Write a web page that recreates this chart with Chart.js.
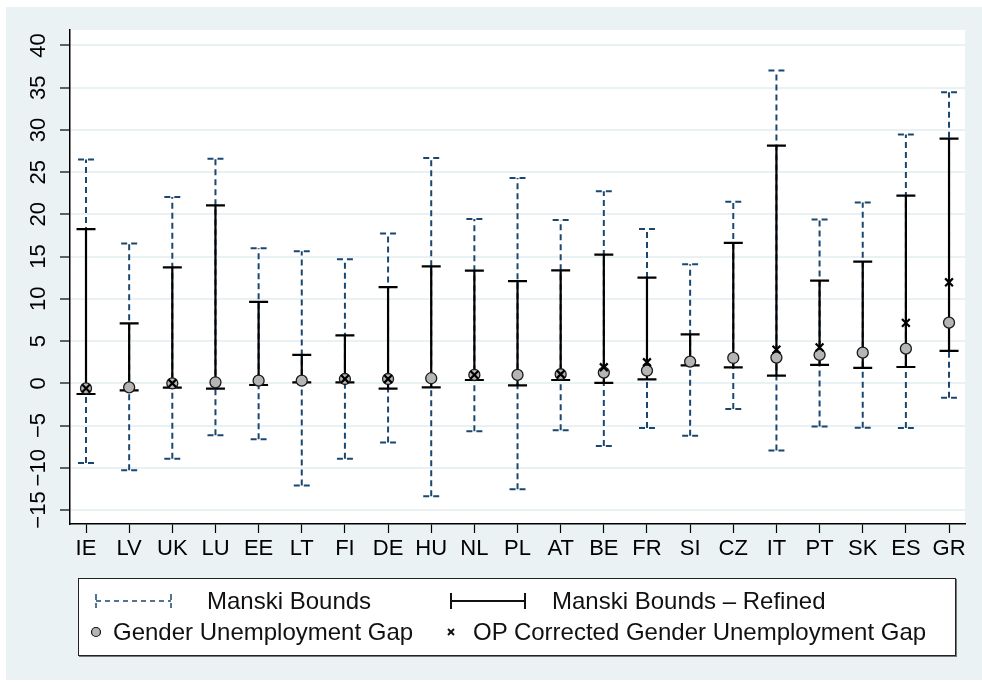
<!DOCTYPE html>
<html>
<head>
<meta charset="utf-8">
<script src="https://cdn.jsdelivr.net/npm/chart.js@4.4.1/dist/chart.umd.min.js"></script>
<style>
  html, body { margin: 0; padding: 0; background: #fff; }
  #frame { position: absolute; left: 6px; top: 7px; width: 976px; height: 673px; background: #eaf2f3; }
  #wrap { position: absolute; left: 0; top: 0; width: 982px; height: 682px; }
  #legend { position: absolute; left: 78px; top: 578px; width: 876px; height: 76px; background: #fff; border: 1px solid #222; box-shadow: 1px 1px 0 #777; font-family: 'Liberation Sans', Arial, sans-serif; font-size: 24px; color: #111; }
  #legend svg { position: absolute; left: 0; top: 0; }
  .item { position: absolute; white-space: nowrap; line-height: 24px; }
</style>
</head>
<body>
<div id="frame"></div>
<div id="wrap"><canvas id="chart"></canvas></div>
<div id="legend">
  <svg width="876" height="76">
    <g stroke="#1a476f" stroke-width="1.5" fill="none">
      <line x1="17" y1="22" x2="92" y2="22" stroke-dasharray="5,4" />
      <line x1="17" y1="15" x2="17" y2="29" stroke-dasharray="6,3" />
      <line x1="92" y1="15" x2="92" y2="29" stroke-dasharray="6,3" />
    </g>
    <g stroke="#111" stroke-width="2" fill="none">
      <line x1="372" y1="22" x2="446" y2="22" />
      <line x1="372" y1="14" x2="372" y2="30" />
      <line x1="446" y1="14" x2="446" y2="30" />
    </g>
    <circle cx="17" cy="53" r="4.5" fill="#b5b5b5" stroke="#111" stroke-width="1.2" />
    <g stroke="#111" stroke-width="2">
      <line x1="369" y1="50" x2="375" y2="56" />
      <line x1="375" y1="50" x2="369" y2="56" />
    </g>
  </svg>
  <div class="item" style="left:128px; top:10px;">Manski Bounds</div>
  <div class="item" style="left:473px; top:10px;">Manski Bounds – Refined</div>
  <div class="item" style="left:34px; top:41px;">Gender Unemployment Gap</div>
  <div class="item" style="left:394px; top:41px;">OP Corrected Gender Unemployment Gap</div>
</div>
<script>
const countries = ['IE','LV','UK','LU','EE','LT','FI','DE','HU','NL','PL','AT','BE','FR','SI','CZ','IT','PT','SK','ES','GR'];
const manskiLow = [-9.45, -10.3, -8.93, -6.15, -6.63, -12.1, -8.93, -7.02, -13.38, -5.68, -12.55, -5.56, -7.42, -5.29, -6.2, -3.04, -7.97, -5.13, -5.25, -5.29, -1.7];
const manskiHigh = [26.5, 16.55, 22.06, 26.6, 16.0, 15.63, 14.68, 17.74, 26.67, 19.44, 24.32, 19.32, 22.74, 18.28, 14.09, 21.48, 37.03, 19.38, 21.4, 29.45, 34.47];
const refinedLow = [-1.27, -0.83, -0.52, -0.64, -0.2, 0.12, 0.12, -0.64, -0.48, 0.39, -0.24, 0.39, 0.04, 0.47, 2.13, 1.89, 0.91, 2.17, 1.82, 1.93, 3.83];
const refinedHigh = [18.25, 7.1, 13.73, 21.07, 9.64, 3.37, 5.67, 11.38, 13.85, 13.33, 12.1, 13.37, 15.24, 12.51, 5.8, 16.62, 28.15, 12.16, 14.41, 22.23, 28.98];
const gap = [-0.6, -0.48, 0.0, 0.12, 0.31, 0.31, 0.51, 0.51, 0.6, 0.99, 0.99, 1.07, 1.27, 1.5, 2.57, 3.0, 3.04, 3.36, 3.63, 4.1, 7.19];
const opGap = [-0.6, null, 0.0, null, null, null, 0.51, 0.51, null, 0.99, null, 1.07, 1.9, 2.49, null, null, 3.99, 4.26, null, 7.15, 11.96];
const yTickValues = [-15, -10, -5, 0, 5, 10, 15, 20, 25, 30, 35, 40];

const FONT = '"Liberation Sans", Arial, sans-serif';

// vertical range line plus caps at both ends, broken with null points
function boundSegments(lo, hi, cap) {
  const pts = [];
  lo.forEach((l, i) => {
    const h = hi[i];
    pts.push({ x: i, y: l }, { x: i, y: h }, { x: i, y: null });
    pts.push({ x: i - cap, y: h }, { x: i + cap, y: h }, { x: i, y: null });
    pts.push({ x: i - cap, y: l }, { x: i + cap, y: l }, { x: i, y: null });
  });
  return pts;
}

function fmt(v) { return v < 0 ? '\u2212' + Math.abs(v) : String(v); }

const plotBg = {
  id: 'plotBg',
  beforeDraw(chart) {
    const { ctx, chartArea: a } = chart;
    ctx.save();
    ctx.fillStyle = '#fff';
    ctx.fillRect(a.left, a.top, a.right - a.left, a.bottom - a.top);
    ctx.restore();
  },
  afterDraw(chart) {
    const ctx = chart.ctx, ys = chart.scales.y;
    ctx.save();
    ctx.font = '22px ' + FONT;
    ctx.fillStyle = '#000';
    ctx.textAlign = 'center';
    ctx.textBaseline = 'middle';
    yTickValues.forEach(v => {
      ctx.save();
      ctx.translate(39, ys.getPixelForValue(v));
      ctx.rotate(-Math.PI / 2);
      ctx.fillText(fmt(v), 0, 0);
      ctx.restore();
    });
    ctx.restore();
  }
};

new Chart(document.getElementById('chart'), {
  type: 'line',
  data: {
    datasets: [
      { label: 'Manski Bounds', data: boundSegments(manskiLow, manskiHigh, 0.185), borderColor: '#1a476f', borderWidth: 2, borderDash: [6, 4], pointRadius: 0, spanGaps: false, order: 4 },
      { label: 'Manski Bounds - Refined', data: boundSegments(refinedLow, refinedHigh, 0.22), borderColor: '#000', borderWidth: 2.2, pointRadius: 0, spanGaps: false, order: 3 },
      { type: 'scatter', label: 'Gender Unemployment Gap', data: gap.map((v, i) => ({ x: i, y: v })), pointRadius: 5.5, pointBackgroundColor: '#b5b5b5', pointBorderColor: '#1a1a1a', pointBorderWidth: 1.3, order: 2 },
      { type: 'scatter', label: 'OP Corrected Gender Unemployment Gap', data: opGap.map((v, i) => ({ x: i, y: v })), pointStyle: 'crossRot', pointRadius: 5.5, pointBorderColor: '#000', pointBorderWidth: 2.2, order: 1 }
    ]
  },
  options: {
    responsive: true, maintainAspectRatio: false, animation: false,
    layout: { padding: { top: 30, right: 17, left: 0, bottom: 108 } },
    plugins: { legend: { display: false }, tooltip: { enabled: false } },
    scales: {
      x: {
        type: 'linear', min: -0.371, max: 20.37,
        afterBuildTicks: s => { s.ticks = countries.map((c, i) => ({ value: i })); },
        afterFit: s => { s.height = 50; },
        ticks: { callback: v => countries[v], autoSkip: false, maxRotation: 0, minRotation: 0, padding: 3, color: '#000', font: { family: FONT, size: 22 } },
        grid: { drawOnChartArea: false, drawTicks: true, tickLength: 9, tickColor: '#000', tickWidth: 1.2 },
        border: { color: '#000', width: 1.5 }
      },
      y: {
        type: 'linear', min: -16.66, max: 41.83,
        afterBuildTicks: s => { s.ticks = yTickValues.map(v => ({ value: v })); },
        afterFit: s => { s.width = 70; },
        ticks: { display: false },
        grid: { color: '#eaf1f3', lineWidth: 2, drawTicks: true, tickLength: 10, tickColor: '#000', tickWidth: 1.2 },
        border: { color: '#000', width: 1.5 }
      }
    }
  },
  plugins: [plotBg]
});
</script>
</body>
</html>
